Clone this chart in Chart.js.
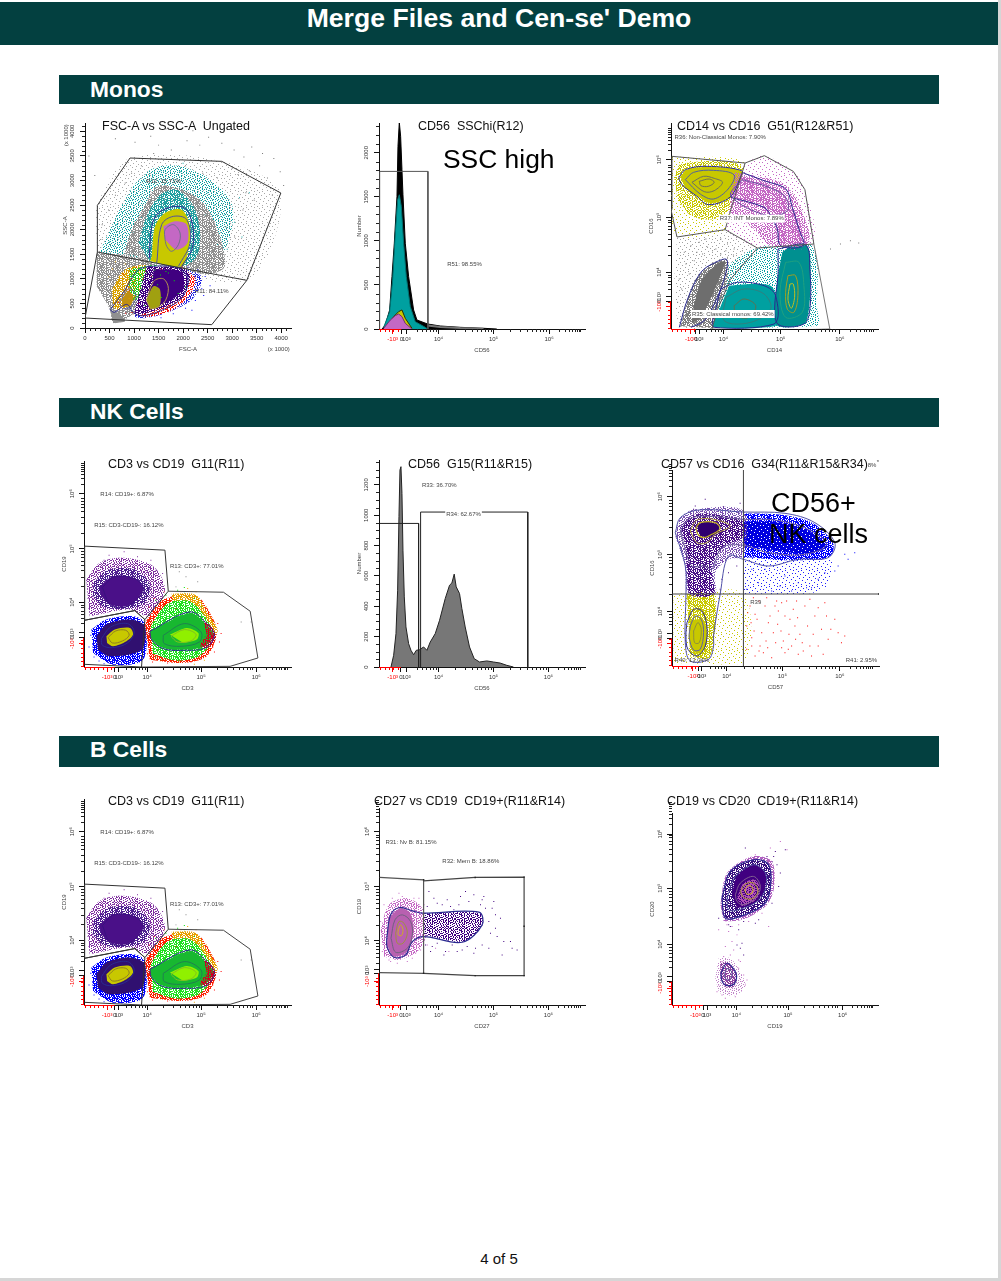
<!DOCTYPE html>
<html>
<head>
<meta charset="utf-8">
<title>Merge Files and Cen-se' Demo</title>
<script src="https://cdn.jsdelivr.net/npm/chart.js@4/dist/chart.umd.min.js"></script>
<style>
  html, body { margin: 0; padding: 0; background: #fff; }
  body { width: 1001px; height: 1281px; position: relative; overflow: hidden; font-family: "Liberation Sans", Arial, sans-serif; }
  .frameR { position: absolute; left: 998px; top: 0; width: 3px; height: 1281px; background: #d6d6d6; }
  .frameB { position: absolute; left: 0; top: 1278px; width: 1001px; height: 3px; background: #d6d6d6; }
  .head { position: absolute; left: 0; top: 2px; width: 998px; height: 43px; background: #034040; color: #fff; font-weight: bold; font-size: 26.6px; line-height: 33px; text-align: center; }
  .bar { position: absolute; left: 59px; width: 880px; background: #034040; color: #fff; font-weight: bold; font-size: 22.8px; padding-left: 31px; box-sizing: border-box; }
  .ttl { position: absolute; font-size: 12.5px; color: #111; white-space: pre; line-height: 14px; z-index: 3; }
  .big { position: absolute; color: #000; white-space: pre; line-height: 30px; z-index: 4; }
  canvas { position: absolute; z-index: 1; filter: blur(0.3px); }
  .foot { position: absolute; left: 0; width: 998px; top: 1250px; text-align: center; font-size: 15px; color: #111; }
</style>
</head>
<body>
<div class="frameR"></div><div class="frameB"></div>
<div class="head">Merge Files and Cen-se' Demo</div>
<div class="bar" style="top:75px;height:29px;line-height:28px">Monos</div>
<div class="bar" style="top:398px;height:29px;line-height:27px">NK Cells</div>
<div class="bar" style="top:736px;height:31px;line-height:27px">B Cells</div>
<div class="big" style="left:443px;top:144px;font-size:26.4px">SSC high</div>
<div class="big" style="left:771px;top:488px;font-size:27px">CD56+</div>
<div class="big" style="left:769px;top:519px;font-size:27px">NK cells</div>
<div class="foot">4 of 5</div>
<script>
// colours used by the cytometry dot plots
var TEAL = "#00a0a0", OLIVE = "#c8c800", MAGENTA = "#c468c4", PURPLE = "#400080", GREY = "#808080"
var NAVY = "#2a2a90", GATE = "#333333", CONTOUR_GREY = "#70708a"

// tick labels shared by the biexponential axes
var logLabels = ["-10³", "0", "10³", "10⁴", "10⁵", "10⁶"]

// ---- FSC-A vs SSC-A (values in the axis units, x 1000 on the labels) ----
var p1Ticks = [0, 500, 1000, 1500, 2000, 2500, 3000, 3500, 4000]
var p1GateHi = [252,1546, 252,2495, 918,3458, 2789,3390, 3993,2746, 3299,969, 252,1546]
var p1GateLo = [252,1546, 0,203, 2585,68, 3299,969]
var p1TealWide = [300,1540, 650,2300, 1000,2900, 1400,3250, 1900,3300, 2500,3050, 3000,2500, 2900,1700, 2500,1250, 1500,1300]
var p1GreyBelt = [800,1500, 950,2000, 1200,2450, 1500,2900, 2300,2650, 2700,2000, 2850,1250, 2500,1100, 1700,1250, 1000,1480]
var p1TealMid = [1088,1729, 1258,2271, 1530,2712, 1870,2814, 2210,2475, 2346,1932, 2278,1458, 2006,1254, 1326,1356]
var p1Olive = [1360,1458, 1428,2068, 1632,2339, 1972,2407, 2142,2068, 2108,1593, 1972,1254, 1326,1356]
var p1Mag = [1598,2068, 1836,2170, 2074,2102, 2088,1729, 1870,1593, 1632,1797]
var p1Con1 = [1312,1424, 1360,2068, 1496,2339, 1836,2475, 2074,2407, 2210,1966, 2176,1593, 1972,1254]
var p1Con2 = [1462,1322, 1564,2102, 1802,2271, 2074,2204, 2142,1729, 1904,1254]
var p1Con3 = [1632,1797, 1632,2000, 1802,2102, 1938,1932, 1904,1695, 1768,1559, 1666,1661, 1632,1797]
var p1GreyLow = [238,1525, 986,1458, 1462,1254, 1326,644, 918,237, 578,102, 510,373, 238,848]
var p1GreyFoot = [510,373, 680,305, 816,136, 578,102]
var p1Orange = [544,780, 816,1186, 1258,1254, 1054,644, 748,373, 578,407]
var p1GreenField = [900,1200, 1500,1250, 1400,500, 900,600]
var p1Core = [1258,1254, 2006,1220, 2142,1051, 2006,644, 1666,441, 1258,305, 1020,271, 1122,780]
var p1CoreIn = [1400,1200, 1950,1150, 2000,800, 1650,520, 1350,600]
var p1RedRim = [900,300, 1300,230, 1800,380, 2150,700, 2250,1000, 2050,1150, 1900,700, 1400,450]
var p1BlueRim = [1900,1250, 2380,1040, 2200,600, 1700,320, 1200,200, 1000,250, 1500,500]
var p1OliveA = [748,576, 884,746, 986,644, 918,441, 782,441]
var p1OliveB = [1258,576, 1394,848, 1530,780, 1516,441, 1326,373]
var p1LowCon = [510,373, 800,750, 1050,1150, 1300,1250, 1900,1220, 2100,1000, 1980,620, 1650,400, 1200,250, 1000,300, 850,480, 600,320, 510,373]
var p1LowCon2 = [1250,560, 1400,950, 1600,1000, 1700,800, 1600,500, 1350,400, 1250,560]
var p1LowCon3 = [700,520, 900,800, 1040,640, 920,420, 760,400, 700,520]
var p1GreySpk = [620,3850,1020,3780,1340,3900,1500,3720,1760,3620,2080,3810,2340,3720,2520,3880,2790,3760,3040,3620,3240,3480,3400,3680,3560,3300,3720,3050,3350,3200,3120,3120,3000,2900,3280,2750,3450,2600,3220,2400,2950,2500,2700,2300,2880,2050,3050,1850,2620,1800,2780,1500,2500,1250,2350,1350,2650,1150,1400,3550,1150,3300,950,3150,820,2950,620,2700,480,2400,350,2100,320,1800,520,1700,700,1950,900,2250,1100,2550,1300,3120,2050,3300,2400,3150,2700,3050,3000,3250,3620,3550,3850,3450,3980,3180,4050,2900,3820,2700,200,3100,80,3500,2200,4010,1650,4050]
var p1TealSpk = [500,1750,640,2100,760,2350,900,2600,1050,2750,1200,3000,1380,3100,1550,3200,1700,3260,1950,3180,2150,3100,2320,2980,2500,2750,2650,2500,2850,2300,3050,2150,3200,1850,2700,1700,2900,1600,2550,1500,1000,1950,1150,2250,600,1620,820,1780,1320,2900,2450,2300,3350,2750,3150,2650,2000,3350]
var p1Green = [1250,1120,1000,980,1380,1040,1150,800,1480,880,1300,700,1080,620,1560,620,1700,1120,1820,960,1420,1180,950,1150,1220,460,1900,700,2050,840,1650,1150,1100,1100,1540,1080]
var p1Red = [780,1100,1050,1240,900,760,1280,380,1500,300,1180,260,1700,340,1980,520,2180,780,2240,1020,1980,1240,1560,1200,1350,1060,1100,500,830,300,680,520]
var p1Blue = [2100,1240,2300,1180,2450,1050,2380,800,2250,560,2050,400,1800,290,1550,210,2550,860,2180,360,2420,660]
var p1OrangeSpk = [560,1200,480,1040,620,1350,700,1060,820,1300,650,880,900,1000,760,680,580,620,1040,900,900,600,1180,1000]
var p1Labels = [["R12: 15.71%",1600,2983],["R11: 84.11%",2584,746],["(x 1000)",3950,-425],["(x 1000)",-388,3920,0,1]]

// ---- CD56 SSChi histogram (x in display channels, y in counts) ----
var p2YTicks = [0, 500, 1000, 1500, 2000]
var p2XTicks = [41, 67, 82, 179, 344, 511]
var p2Black = [9,0,19,45,32,216,39,595,46,973,54,1504,57,2072,61,2345,65,2186,69,1807,72,1523,79,973,89,595,104,216,114,102,146,57,184,34,244,19,314,8,354,0]
var p2Teal = [14,19,32,197,41,557,49,1087,56,1466,61,1523,67,1390,74,973,82,595,94,254,109,83,139,19,146,0]
var p2Yellow = [24,26,44,140,59,197,69,216,79,121,99,8]
var p2Magenta = [14,8,34,102,49,152,59,170,69,140,79,64,99,0]
var p2Tail = [146,40,184,24,244,12,314,4]
var p2Gate = [2,0,2,1788,147,1788,147,0]
var p2Labels = [["R51: 98.55%",257,735]]

// ---- CD14 vs CD16 (display channels on both axes) ----
var p3XTicks = [58, 75, 85, 158, 330, 508]
var p3YTicks = [68, 83, 98, 171, 336, 508]
var p3Gate36 = [3,518,223,498,183,368,163,298,18,276,0,358,3,518]
var p3Gate37 = [223,498,281,520,368,473,403,418,430,255,260,243,163,298]
var p3Gate38 = [260,243,178,148,140,58,123,0]
var p3Gate35 = [430,255,478,0,300,-5,123,0]
var p3YelMid = [10,450,30,495,210,490,185,370,130,330,60,340,20,390]
var p3YelCore = [28,458,53,480,128,486,213,473,203,433,173,393,118,378,83,396,43,423]
var p3MagWide = [190,470,330,440,380,385,415,260,300,250,250,300,175,350]
var p3MagBand = [208,463,318,423,358,378,388,318,408,255,328,253,318,308,278,358,178,398]
var p3TealBlock = [360,250,410,250,420,170,415,60,400,15,320,10,312,60,322,160,335,230]
var p3TealLow = [175,130,240,135,300,130,315,100,315,10,130,5,150,70]
var p3GreyCore = [68,68,93,148,143,198,163,203,148,158,118,88,88,33,63,18]
var p3GreyRim = [28,8,68,138,118,193,168,208,168,138,138,58,128,3]
var p3GreyField = [18,276,163,298,260,243,178,148,140,58,123,0,30,0,10,150]
var p3TealWide = [128,140,170,190,260,243,425,250,440,60,440,10,120,5]
var p3C1 = [23,453,43,478,108,488,213,475,208,453,178,396,113,373,78,398,33,433,23,453]
var p3C2 = [43,448,68,470,128,476,190,462,172,420,128,390,88,405,43,448]
var p3C3 = [63,440,98,458,130,452,155,440,130,415,100,412,63,440]
var p3C4 = [85,443,115,450,130,440,112,428,90,430,85,443]
var p3M1 = [213,470,280,445,345,420,365,365,385,300,398,250,330,250,320,300,300,340,280,365,180,395]
var p3M2 = [215,448,295,425,345,395,350,355,290,340,180,400,215,448]
var p3T1 = [322,240,405,252,418,180,418,60,400,15,325,12,312,60,322,160,322,240]
var p3T2 = [345,200,385,200,400,130,395,50,345,35,328,110,345,200]
var p3T3 = [352,160,375,160,382,100,370,50,350,60,345,110,352,160]
var p3T4 = [358,135,368,135,372,95,362,62,352,90,358,135]
var p3L1 = [150,120,200,140,280,130,315,100,310,15,130,5,135,60,150,120]
var p3L2 = [165,95,220,120,280,105,300,60,240,20,160,25,165,95]
var p3L3 = [190,70,220,90,255,70,235,35,195,40,190,70]
var p3G1 = [25,5,50,90,90,170,130,198,168,208,160,150,130,75,100,25,60,5]
var p3GreySpk = [40,230,60,250,85,260,105,270,125,235,150,270,170,255,190,240,215,235,70,205,95,225,135,240,165,235,55,165,32,120,20,80,170,215,200,205,150,225,110,245,78,230,188,222,45,195,25,150]
var p3Labels = [["R36: Non-Classical Monos: 7.90%",148,576,1],["R37: INT Monos: 7.89%",243,331,1],["R35: Classical monos: 69.42%",186,45,1]]
var p3Stray = [510,255,540,265,565,258,480,240]

// ---- CD3 vs CD19, used by both the NK and the B cell rows (channels) ----
var p4XTicks = [69, 92, 104, 189, 350, 515]
var p4YTicks = [70, 87, 102, 194, 354, 519]
var p4Gate14 = [2,362,242,350,252,227,182,142,152,169,2,140,2,362]
var p4Gate15 = [2,140,152,169,182,142,172,0,2,8]
var p4Gate13 = [252,227,417,224,497,167,520,27,437,2,172,0]
var p4PurpleWide = [7,262,47,312,117,327,207,302,242,232,197,152,137,172,17,152]
var p4PurpleMid = [30,255,70,290,150,292,195,250,185,195,135,175,60,180,25,215]
var p4PurpleCore = [47,242,87,272,147,267,177,237,162,207,127,182,77,187,52,212]
var p4BlueField = [22,112,67,142,147,152,182,132,177,22,87,7,27,42]
var p4DarkCore = [37,92,67,127,137,142,182,122,172,52,77,32,42,52]
var p4OliveCore = [67,92,92,112,137,117,147,97,127,77,87,62,69,72]
var p4RedField = [182,132,237,202,337,212,387,142,397,97,367,32,297,12,197,22]
var p4OrangeField = [262,220,335,215,370,160,400,110,380,90,340,150,270,170]
var p4GreenField = [200,125,250,190,320,195,375,130,385,80,340,30,270,20,205,40]
var p4GreenCore = [197,107,317,162,367,127,387,97,362,62,297,52,237,57,202,82]
var p4LimeCore = [257,97,307,117,342,102,337,82,297,72]
var p4RedBand = [357,142,387,112,392,82,367,57,347,62,367,97]
var p4C1 = [197,107,317,165,370,127,390,97,365,58,297,50,237,55,202,82,197,107]
var p4C2 = [237,95,300,130,350,105,345,75,290,62,240,70,237,95]
var p4C3 = [260,92,300,112,335,98,320,78,280,75,260,92]
var p4D1 = [52,85,80,120,130,130,150,105,130,72,85,58,55,65,52,85]
var p4D2 = [72,88,95,108,125,110,135,95,115,78,85,72,72,88]
var p4P1 = [55,238,90,270,150,265,178,235,160,205,125,180,80,185,55,238]
var p4Purple = [12,205,25,240,40,290,60,320,90,310,120,345,160,330,200,320,215,290,232,250,235,210,15,175,35,165,8,260,220,170,205,145,190,285,75,335,55,275,30,205,48,300,235,280]
var p4Blue = [30,30,45,18,60,25,80,12,100,20,120,15,150,25,165,30,15,60,20,95,35,60,105,10,135,12,60,10,88,22,145,40]
var p4Green = [215,200,230,150,245,215,280,230,300,225,330,205,350,180,280,20,300,30,330,35,230,22,260,25,215,30,300,238]
var p4Red = [195,180,210,205,222,165,190,40,205,15,250,12,400,130,410,100,405,75,385,60,390,45,350,25,320,15,275,175,240,225]
var p4Orange = [290,225,310,235,335,225,345,205,365,180,380,150,360,20,330,8,285,15,345,30]
var p4Stray = [285,285,305,270,340,255,275,240,470,135,500,135]
var p4Labels = [["R14: CD19+: 6.87%",129,518],["R15: CD3-CD19-: 16.12%",134,424],["R13: CD3+: 77.01%",337,300,1]]

// ---- CD56 G15 histogram ----
var p5YTicks = [0, 200, 400, 600, 800, 1000, 1200]
var p5XTicks = [41, 66, 82, 179, 344, 509]
var p5Hist = [36,0,44,77,51,220,56,506,60,990,63,1298,66,1320,69,1144,72,770,76,462,81,264,89,154,96,110,104,81,112,110,122,114,134,132,144,110,154,165,169,220,182,308,199,451,212,539,219,554,226,612,232,528,242,484,249,385,259,264,272,132,286,55,302,33,324,40,344,33,364,26,384,11,404,0]
var p5Gate33 = [2,946,119,946,119,0]
var p5Gate34 = [125,0,125,1021,447,1021,447,0]
var p5Labels = [["R33: 36.70%",181,1197],["R34: 62.67%",254,1003,1]]

// ---- CD57 vs CD16 ----
var p6XTicks = [63, 81, 90, 165, 332, 505]
var p6YTicks = [68, 83, 98, 163, 335, 508]
var p6LineV = [215,0,215,588]
var p6LineH = [0,216,623,216]
var p6Diamond = [623,216]
var p6PurpleWide = [10,390,25,445,70,470,215,465,215,330,170,320,130,280,130,216,50,216,40,300]
var p6PurpleDense = [25,418,65,453,145,453,215,433,215,388,155,358,120,298,125,216,55,216,45,298,40,368]
var p6PurpleCore = [75,423,100,433,140,423,140,403,110,386,85,390]
var p6BlueWide = [215,458,335,453,425,428,485,368,475,328,405,318,325,318,215,328]
var p6BlueDense = [215,433,305,433,405,408,465,358,405,338,305,348,215,363]
var p6BlueSparse = [215,328,475,320,455,228,215,216]
var p6YelWide = [5,216,215,216,215,8,5,8]
var p6YelMid = [45,216,125,216,115,28,55,28]
var p6YelCore = [55,138,95,138,105,78,85,38,60,48,50,88]
var p6C1 = [10,400,25,445,80,468,215,462,340,458,430,430,490,370,470,325,380,320,290,300,215,320,170,330,145,216,125,90,125,60,110,20,55,15,40,70,42,216,40,300,10,400]
var p6C2 = [25,405,50,440,100,450,215,440,310,438,410,410,465,365,400,335,290,340,215,362,150,355,120,290,100,300,60,300,40,350,25,405]
var p6C3 = [55,405,75,438,125,440,175,420,130,395,105,370,75,370,55,405]
var p6C4 = [72,415,85,430,130,430,145,412,120,395,95,385,78,395,72,415]
var p6C5 = [45,130,65,170,90,165,105,120,100,60,75,30,48,50,42,90,45,130]
var p6C6 = [55,120,70,150,88,140,95,100,85,50,65,48,52,85,55,120]
var p6C7 = [65,105,78,130,88,110,82,70,68,70,65,105]
var p6Red = [225,120,240,85,250,155,265,60,280,180,290,130,305,100,320,165,335,75,345,195,355,140,370,120,385,95,400,180,415,60,430,150,450,110,470,80,490,140,250,30,275,40,300,25,340,40,380,35,420,30,235,180,262,195,315,195,225,50,360,60,510,70,455,35,228,160,238,130,247,105,256,140,270,100,283,75,295,150,310,180,318,125,328,105,340,150,352,95,365,170,378,145,392,70,408,120,425,95,440,175,465,150,478,110,500,100,520,90,240,60,262,45,288,55,312,70,330,55,350,50,372,80,395,45,440,60,245,205,285,205,330,190,375,195,415,200,460,190]
var p6BlueSpk = [225,230,260,250,300,225,340,270,380,250,420,235,460,280,500,300,520,335,490,285,440,260,360,225,280,290,240,290,530,320,550,340,405,235,325,240]
var p6PurpleSpk = [70,480,100,500,155,478,205,488,65,470,135,470,180,472,150,260,170,280,195,300,145,230,135,295]
var p6Labels = [["R39",252,191],["R40: 13.04%",60,16],["R41: 2.95%",570,16],["8%",602,601],["*",620,612]]

// ---- CD27 vs CD19 ----
var p8YTicks = [70, 95, 105, 192, 355, 520]
var p8XTicks = [41, 66, 82, 179, 344, 509]
var p8Gate31 = [2,382,134,375,134,95,2,97]
var p8Gate32 = [134,372,289,382,436,383,436,88,289,88,134,95]
var p8Vertices = [134,375,289,382,436,383,436,236,436,88,289,88,134,95]
var p8MagWide = [5,225,30,300,85,320,130,290,145,220,120,165,60,135,15,145]
var p8MagCore = [29,260,64,290,94,275,104,220,84,160,44,145,24,180]
var p8PurpleBand = [134,275,304,275,309,235,254,190,134,210]
var p8C1 = [24,205,35,270,62,292,100,282,130,275,300,278,310,240,250,188,135,205,100,190,80,150,45,143,24,175,24,205]
var p8C2 = [36,200,48,255,70,270,95,250,100,210,85,170,50,158,36,200]
var p8C3 = [50,215,60,250,75,245,85,215,72,185,55,185,50,215]
var p8C4 = [58,225,65,240,72,225,68,208,58,210,58,225]
var p8Purple = [150,340,175,305,205,315,240,300,260,340,285,330,315,325,345,310,350,270,330,250,335,215,355,205,375,190,395,190,400,170,415,165,370,150,290,170,250,165,200,160,160,175,145,295,225,285,305,300,320,290,140,180,155,160,175,185,195,150,220,180,235,160,265,175,285,155,310,180,330,170,350,230,365,260,340,290,310,315,270,310,245,325,215,295,190,300,165,320]
var p8Mag = [15,300,40,320,70,325,105,320,120,300,130,250,125,165,110,155,85,130,30,135,10,160,5,250,145,180,170,170,210,160,135,300,120,320,60,335,95,310,35,130,55,125,100,140]
var p8Labels = [["R31: Nv B: 81.15%",96,488],["R32: Mem B: 18.86%",276,430]]

// ---- CD19 vs CD20 ----
var p9XTicks = [70, 93, 105, 193, 348, 512]
var p9YTicks = [50, 70, 85, 182, 350, 512]
var p9MagWide = [145,300,165,395,240,445,300,430,305,345,280,295,210,255,155,250]
var p9Dark = [150,320,175,400,245,435,290,420,295,350,275,300,205,265,160,260]
var p9DarkCore = [180,330,195,385,245,420,280,395,275,340,240,300,195,290]
var p9MagCore = [195,320,215,365,250,375,265,340,245,310,210,295]
var p9Low = [145,125,170,128,195,85,185,55,160,55,145,90]
var p9LowWide = [140,140,175,140,210,90,220,55,190,30,145,35,130,80]
var p9C1 = [150,320,175,400,245,435,290,420,295,350,275,300,205,265,160,260,150,320]
var p9C2 = [165,320,190,385,245,420,280,395,280,345,255,310,200,285,170,285,165,320]
var p9C3 = [190,330,205,365,245,385,265,355,250,320,215,300,195,310,190,330]
var p9C4 = [205,340,220,362,245,365,258,340,240,318,215,322,205,340]
var p9C5 = [218,345,230,358,242,350,240,335,225,332,218,345]
var p9LowC1 = [147,95,165,125,192,95,188,65,165,58,150,72,147,95]
var p9LowC2 = [157,95,168,110,180,95,172,75,160,80,157,95]
var p9Purple = [220,470,270,440,310,460,340,465,300,400,320,355,300,305,240,270,170,240,200,225,260,255,210,185,195,180,205,170,215,150,300,430,140,260,305,445,315,420,285,445,325,395,175,235,215,250,250,245]
var p9Mag = [170,220,195,210,180,190,185,165,175,150,155,145,150,130,140,60,135,40,150,30,200,110,210,70,220,60,200,45,170,35,145,110,200,135,160,175,290,235,345,465,325,490,295,470,250,450,165,240,180,235,200,240,230,250,270,275,140,225,205,130,215,90,225,75,190,25,160,20]
var p9Labels = []

var minorWidth = 3
</script>
<script>
Chart.defaults.font.family = '"Liberation Sans", Arial, sans-serif'
Chart.defaults.devicePixelRatio = 1

// stipple tiles, so a density region reads as speckle rather than flat colour
var tileSparse = ["#.......#.......",".....#..........","..........#.....","..#............#",".......#........","............#...","....#...........","#.........#.....","......#.........","..............#.","..#......#......","................",".....#......#...","#...............","........#.......","...#.........#.."]
var tileMid = ["#...#..#....#...","..#....#..#...#.","#....#.....#....","...#...#.#....#.",".#...#.....#.#..","....#..#.#.....#","#.#.....#...#...","...#.#....#...#.",".#.....#.#..#...","....#.#....#...#","#.#......#...#..","...#.#.#....#...",".#.....#..#....#","...#.#...#..#...","#......#....#.#.","..#.#.....#....."]
var tileShifts = [[0, 0], [5, 7], [9, 3], [12, 11]]
var tileCache = {}

function stipple(color, tile, n) {
    var key = color + tile[0] + tile[1] + n
    if (tileCache[key]) return tileCache[key]
    var c = document.createElement("canvas")
    c.width = 16
    c.height = 16
    var g = c.getContext("2d")
    g.fillStyle = color
    for (var r = 0; r < 16; r++) {
        for (var k = 0; k < 16; k++) {
            if (tile[r][k] == "#") {
                for (var s = 0; s < n; s++) g.fillRect((k + tileShifts[s][0]) % 16, (r + tileShifts[s][1]) % 16, 1, 1)
            }
        }
    }
    tileCache[key] = c.getContext("2d").createPattern(c, "repeat")
    return tileCache[key]
}

function pts(a) {
    var out = []
    for (var i = 0; i < a.length; i += 2) out.push({ x: a[i], y: a[i + 1] })
    return out
}

function dots(a, color, r) {
    return { data: pts(a), showLine: false, pointRadius: r || 0.7, pointStyle: "rect", pointBackgroundColor: color, pointBorderWidth: 0 }
}
function solid(a, color) {
    return { data: pts(a), showLine: true, borderWidth: 0, pointRadius: 0, tension: 0.3, areaFill: color }
}
function sparse(a, color) { return solid(a, stipple(color, tileSparse, 1)) }
function mid(a, color) { return solid(a, stipple(color, tileMid, 1)) }
function dense(a, color) { return solid(a, stipple(color, tileMid, 2)) }
function heavy(a, color) { return solid(a, stipple(color, tileMid, 4)) }
function line(a, color, w, t) {
    return { data: pts(a), showLine: true, borderColor: color, borderWidth: w || 1, pointRadius: 0, tension: t === undefined ? 0.35 : t }
}
function gate(a) { return line(a, GATE, 1, 0) }
function hist(a, color, edge) {
    return { data: pts(a), showLine: true, fill: "origin", backgroundColor: color, borderColor: edge || color, borderWidth: 1, pointRadius: 0, tension: 0 }
}

// closes and fills the area datasets through the scales of their own chart
var areaPlugin = {
    id: "areaFill",
    beforeDatasetDraw: function (chart, args) {
        var ds = chart.data.datasets[args.index]
        if (!ds.areaFill) return
        var el = args.meta.dataset
        el.updateControlPoints(chart.chartArea, "x")
        var ctx = chart.ctx
        ctx.save()
        ctx.beginPath()
        ctx.rect(chart.chartArea.left, chart.chartArea.top, chart.chartArea.width, chart.chartArea.height)
        ctx.clip()
        ctx.beginPath()
        el.path(ctx)
        ctx.closePath()
        ctx.fillStyle = ds.areaFill
        ctx.fill()
        ctx.restore()
    }
}

// short ticks, red lower axis and the small region labels
var extrasPlugin = {
    id: "extras",
    afterDatasetsDraw: function (chart) {
        var cfg = chart.options.plugins.extras
        var ctx = chart.ctx, sx = chart.scales.x, sy = chart.scales.y
        var ax = chart.chartArea.left, ay = chart.chartArea.bottom
        ctx.save()
        ctx.lineWidth = 1
        if (cfg.redX) {
            ctx.strokeStyle = "#ff0000"
            ctx.beginPath()
            ctx.moveTo(ax, ay + 0.5)
            ctx.lineTo(sx.getPixelForValue(cfg.redX), ay + 0.5)
            ctx.stroke()
        }
        if (cfg.redY) {
            ctx.strokeStyle = "#ff0000"
            ctx.beginPath()
            ctx.moveTo(ax - 0.5, ay)
            ctx.lineTo(ax - 0.5, sy.getPixelForValue(cfg.redY))
            ctx.stroke()
        }
        cfg.minorX.forEach(function (v) {
            var p = Math.round(sx.getPixelForValue(v)) + 0.5
            ctx.strokeStyle = v < cfg.redX ? "#ff0000" : "#222"
            ctx.beginPath()
            ctx.moveTo(p, ay)
            ctx.lineTo(p, ay + minorWidth)
            ctx.stroke()
        })
        cfg.minorY.forEach(function (v) {
            var p = Math.round(sy.getPixelForValue(v)) + 0.5
            ctx.strokeStyle = v < cfg.redY ? "#ff0000" : "#222"
            ctx.beginPath()
            ctx.moveTo(ax, p)
            ctx.lineTo(ax - minorWidth, p)
            ctx.stroke()
        })
        ctx.font = '6px "Liberation Sans", Arial, sans-serif'
        ctx.textAlign = "center"
        ctx.textBaseline = "middle"
        cfg.labels.forEach(function (l) {
            var px = sx.getPixelForValue(l[1]), py = sy.getPixelForValue(l[2])
            var w = ctx.measureText(l[0]).width
            if (l[3]) {
                ctx.fillStyle = "#fff"
                ctx.fillRect(px - w / 2 - 1, py - 4, w + 2, 8)
            }
            ctx.fillStyle = "#444"
            ctx.save()
            ctx.translate(px, py)
            if (l[4]) ctx.rotate(-Math.PI / 2)
            ctx.fillText(l[0], 0, 0)
            ctx.restore()
        })
        ctx.restore()
    }
}

// 2..9 spacing inside each labelled decade
function decadeMinors(p4, p5, p6, zero) {
    var out = [], step = p5 - p4
    var f = [0.301, 0.477, 0.602, 0.699, 0.778, 0.845, 0.903, 0.954]
    f.forEach(function (k) {
        out.push(p4 + step * k, p5 + step * k, p6 + step * k * 0.6)
        if (p4 - step * (1 - k) > zero + 14) out.push(p4 - step * (1 - k))
    })
    return out
}
function lowMinors(zero) {
    var out = []
    for (var v = 4; v < zero; v += 13) out.push(v)
    return out
}

function panel(o) {
    var c = document.createElement("canvas")
    var yw = 23, xh = 26, padTop = 12, padRight = 8
    c.width = o.right - o.left + yw + padRight
    c.height = o.bottom - o.top + padTop + xh
    c.style.left = (o.left - yw) + "px"
    c.style.top = (o.top - padTop) + "px"
    document.body.appendChild(c)

    function axis(ticks, labels, max, rotate, zero, name) {
        return {
            type: "linear", min: 0, max: max, bounds: "ticks",
            afterBuildTicks: function (s) { s.ticks = ticks.map(function (v) { return { value: v } }) },
            afterFit: function (s) {
                if (rotate) { s.width = yw; s.paddingTop = 0; s.paddingBottom = 0 }
                else { s.height = xh; s.paddingLeft = 0; s.paddingRight = 0 }
            },
            border: { color: "#111", width: 1 },
            grid: {
                drawOnChartArea: false, tickLength: 5,
                tickColor: function (ctx) { return ctx.tick && zero && ctx.tick.value < zero ? "#ff0000" : "#111" }
            },
            title: { display: !!name, text: name, font: { size: 6 }, color: "#444", padding: { top: 0, bottom: 1 } },
            ticks: {
                autoSkip: false, minRotation: rotate ? 90 : 0, maxRotation: rotate ? 90 : 0,
                crossAlign: rotate ? "center" : "near", padding: rotate ? 1 : 2,
                font: { size: 6 },
                color: function (ctx) { return zero && ctx.tick && ctx.tick.value < zero ? "#ff0000" : "#333" },
                callback: function (v, i) { return labels[i] }
            }
        }
    }

    new Chart(c, {
        type: "scatter",
        data: { datasets: o.layers.slice().reverse() },
        plugins: [areaPlugin, extrasPlugin],
        options: {
            responsive: false, animation: false, events: [],
            layout: { padding: { top: padTop, right: padRight, left: 0, bottom: 0 } },
            plugins: {
                legend: { display: false }, tooltip: { enabled: false },
                extras: { labels: o.labels, minorX: o.minorX, minorY: o.minorY, redX: o.redX, redY: o.redY }
            },
            scales: {
                x: axis(o.xTicks, o.xLabels, o.xMax, false, o.redX, o.xName),
                y: axis(o.yTicks, o.yLabels, o.yMax, true, o.redY, o.yName)
            }
        }
    })
}

function title(text, x, y) {
    var d = document.createElement("div")
    d.className = "ttl"
    d.textContent = text
    d.style.left = x + "px"
    d.style.top = y + "px"
    document.body.appendChild(d)
}

function countLabels(t) { return t.map(String) }

// ---- Monos row ----
var p1Minor = []
for (var t1 = 100; t1 < 4200; t1 += 100) if (t1 % 500) p1Minor.push(t1)

panel({
    left: 85, right: 291, top: 123, bottom: 328, xMax: 4200, yMax: 4170,
    xTicks: p1Ticks, yTicks: p1Ticks, xLabels: countLabels(p1Ticks), yLabels: countLabels(p1Ticks),
    minorX: p1Minor, minorY: p1Minor, labels: p1Labels,
    xName: "FSC-A", yName: "SSC-A",
    layers: [
        dots(p1GreySpk, "#777"), sparse(p1GateHi, "#a8a8a8"), mid(p1TealWide, TEAL), dots(p1TealSpk, TEAL),
        heavy(p1GreyBelt, "#909090"), heavy(p1TealMid, "#20a0a0"),
        solid(p1Olive, OLIVE), solid(p1Mag, MAGENTA),
        line(p1Con1, NAVY), line(p1Con2, "#5050a0"), line(p1Con3, CONTOUR_GREY),
        heavy(p1GreyLow, "#909090"), heavy(p1Orange, "#d8a000"), solid(p1GreyFoot, "#909090"),
        dense(p1GreenField, "#10d020"), dense(p1BlueRim, "#2020e0"), dense(p1RedRim, "#ff1000"), heavy(p1Core, PURPLE), solid(p1CoreIn, PURPLE),
        solid(p1OliveA, "#c09010"), solid(p1OliveB, "#a0a010"),
        dots(p1Green, "#00e000"), dots(p1Red, "#ff0000"), dots(p1Blue, "#0000ff"), dots(p1OrangeSpk, "#e0a000"),
        line(p1LowCon, NAVY), line(p1LowCon2, "#b09050"), line(p1LowCon3, "#6060a0"),
        gate(p1GateHi), gate(p1GateLo)
    ]
})
title("FSC-A vs SSC-A  Ungated", 102, 119)

panel({
    left: 379, right: 585, top: 123, bottom: 329, xMax: 619, yMax: 2337,
    xTicks: p2XTicks, yTicks: p2YTicks, xLabels: logLabels, yLabels: countLabels(p2YTicks),
    minorX: decadeMinors(179, 344, 511, 82).concat(lowMinors(67)), minorY: [100, 200, 300, 400, 600, 700, 800, 900, 1100, 1200, 1300, 1400, 1600, 1700, 1800, 1900, 2100, 2200, 2300],
    redX: 67, labels: p2Labels, xName: "CD56", yName: "Number",
    layers: [
        hist(p2Black, "#000000"), hist(p2Teal, TEAL, "#007070"), hist(p2Yellow, OLIVE, "#303000"), hist(p2Magenta, MAGENTA, "#703070"),
        line(p2Tail, "#777", 2, 0), line(p2Gate, "#555", 1, 0)
    ]
})
title("CD56  SSChi(R12)", 418, 119)

panel({
    left: 671, right: 878, top: 123, bottom: 329, xMax: 623, yMax: 618,
    xTicks: p3XTicks, yTicks: p3YTicks, xLabels: logLabels, yLabels: logLabels,
    minorX: decadeMinors(158, 330, 508, 85).concat(lowMinors(75)), minorY: decadeMinors(171, 336, 508, 98).concat(lowMinors(83)),
    redX: 75, redY: 83, labels: p3Labels, xName: "CD14", yName: "CD16",
    layers: [
        sparse(p3GreyField, "#a0a0a0"), mid(p3TealWide, TEAL), dots(p3GreySpk, "#777"), heavy(p3GreyRim, "#808080"), solid(p3GreyCore, "#6e6e6e"),
        solid(p3TealLow, "#00a0a0"), solid(p3TealBlock, "#009090"),
        sparse(p3Gate36, OLIVE), dense(p3YelMid, OLIVE), solid(p3YelCore, OLIVE),
        sparse(p3Gate37, MAGENTA), dense(p3MagWide, MAGENTA), heavy(p3MagBand, MAGENTA),
        dots(p3Stray, "#777"),
        line(p3C1, NAVY), line(p3C2, "#5060a0"), line(p3C3, "#6a7060"), line(p3C4, "#707050"),
        line(p3M1, NAVY), line(p3M2, "#6a50a0"),
        line(p3T1, NAVY), line(p3T2, "#20a080"), line(p3T3, "#a0a020"), line(p3T4, "#c0c020"),
        line(p3L1, NAVY), line(p3L2, "#308080"), line(p3L3, "#607050"),
        line(p3G1, NAVY),
        line(p3Gate36, "#555", 1, 0), line(p3Gate37, "#555", 1, 0), line(p3Gate38, "#555", 1, 0), line(p3Gate35, "#777", 1, 0)
    ]
})
title("CD14 vs CD16  G51(R12&R51)", 677, 119)

// ---- CD3 vs CD19 appears twice on the page ----
function cd3Panel(top, titleTop) {
    panel({
        left: 84, right: 291, top: top, bottom: top + 206, xMax: 619, yMax: 617,
        xTicks: p4XTicks, yTicks: p4YTicks, xLabels: logLabels, yLabels: logLabels,
        minorX: decadeMinors(189, 350, 515, 104).concat(lowMinors(92)), minorY: decadeMinors(194, 354, 519, 102).concat(lowMinors(87)),
        redX: 92, redY: 87, labels: p4Labels, xName: "CD3", yName: "CD19",
        layers: [
            dense(p4PurpleWide, "#8030a0"), heavy(p4PurpleMid, "#502090"), solid(p4PurpleCore, "#4a1088"), dots(p4Purple, "#8030a0"),
            heavy(p4BlueField, "#0000ff"), solid(p4DarkCore, "#301070"), solid(p4OliveCore, OLIVE), dots(p4Blue, "#0000ff"),
            heavy(p4RedField, "#ff2000"), heavy(p4OrangeField, "#e8a000"), heavy(p4GreenField, "#20e020"), solid(p4GreenCore, "#18b830"), heavy(p4RedBand, "#d00020"), solid(p4LimeCore, "#90f000"),
            dots(p4Green, "#00e000"), dots(p4Red, "#ff0000"), dots(p4Orange, "#e8a000"), dots(p4Stray, "#888"),
            line(p4P1, "#3a1080"), line(p4C1, NAVY), line(p4C2, "#208050"), line(p4C3, "#80c020"),
            line(p4D1, NAVY), line(p4D2, "#908020"),
            gate(p4Gate14), gate(p4Gate15), line(p4Gate13, "#444", 1, 0)
        ]
    })
    title("CD3 vs CD19  G11(R11)", 108, titleTop)
}

// ---- NK row ----
cd3Panel(461, 457)

panel({
    left: 379, right: 585, top: 460, bottom: 667, xMax: 619, yMax: 1364,
    xTicks: p5XTicks, yTicks: p5YTicks, xLabels: logLabels, yLabels: countLabels(p5YTicks),
    minorX: decadeMinors(179, 344, 509, 82).concat(lowMinors(66)), minorY: [50, 100, 150, 250, 300, 350, 450, 500, 550, 650, 700, 750, 850, 900, 950, 1050, 1100, 1150, 1250, 1300, 1350],
    redX: 66, labels: p5Labels, xName: "CD56", yName: "Number",
    layers: [hist(p5Hist, "#777777", "#222222"), line(p5Gate33, "#222", 1, 0), line(p5Gate34, "#222", 1, 0)]
})
title("CD56  G15(R11&R15)", 408, 457)

panel({
    left: 672, right: 879, top: 470, bottom: 666, xMax: 623, yMax: 588,
    xTicks: p6XTicks, yTicks: p6YTicks, xLabels: logLabels, yLabels: logLabels,
    minorX: decadeMinors(165, 332, 505, 90).concat(lowMinors(81)), minorY: decadeMinors(163, 335, 508, 98).concat(lowMinors(83)),
    redX: 81, redY: 83, labels: p6Labels, xName: "CD57", yName: "CD16",
    layers: [
        sparse(p6YelWide, OLIVE), heavy(p6YelMid, OLIVE), solid(p6YelCore, OLIVE),
        dots(p6Red, "#ff0000"),
        sparse(p6BlueSparse, "#2020ff"), dots(p6BlueSpk, "#0000ff"), heavy(p6BlueWide, "#0000ff"), solid(p6BlueDense, "#0000e0"), sparse(p6BlueDense, "#ffffff"),
        dense(p6PurpleWide, "#7a50b0"), heavy(p6PurpleDense, "#4a1088"), solid(p6PurpleCore, "#300070"), dots(p6PurpleSpk, "#400080"),
        line(p6C1, "#5050a8"), line(p6C2, "#7060a0"), line(p6C3, "#b0a040"), line(p6C4, "#c0b020", 1.2),
        line(p6C5, NAVY), line(p6C6, "#6060a0"), line(p6C7, "#90903a"),
        line(p6LineV, "#444", 1, 0), line(p6LineH, "#444", 1, 0), dots(p6Diamond, "#222", 1.2)
    ]
})
title("CD57 vs CD16  G34(R11&R15&R34)", 661, 457)

// ---- B cell row ----
cd3Panel(799, 794)

panel({
    left: 379, right: 585, top: 808, bottom: 1005, xMax: 619, yMax: 590,
    xTicks: p8XTicks, yTicks: p8YTicks, xLabels: logLabels, yLabels: logLabels,
    minorX: decadeMinors(179, 344, 509, 82).concat(lowMinors(66)), minorY: decadeMinors(192, 355, 520, 105).concat(lowMinors(95)),
    redX: 66, redY: 95, labels: p8Labels, xName: "CD27", yName: "CD19",
    layers: [
        dense(p8MagWide, MAGENTA), solid(p8MagCore, "#b860b0"), dots(p8Mag, MAGENTA),
        dense(p8PurpleBand, "#400080"), dots(p8Purple, "#400080"),
        line(p8C1, NAVY, 1.2), line(p8C2, "#706080"), line(p8C3, "#a09040"), line(p8C4, "#d0b020"),
        line(p8Gate31, "#555", 1.2, 0), line(p8Gate32, "#444", 1.2, 0), dots(p8Vertices, "#222", 1)
    ]
})
title("CD27 vs CD19  CD19+(R11&R14)", 374, 794)

panel({
    left: 672, right: 878, top: 813, bottom: 1005, xMax: 618, yMax: 575,
    xTicks: p9XTicks, yTicks: p9YTicks, xLabels: logLabels, yLabels: logLabels,
    minorX: decadeMinors(193, 348, 512, 105).concat(lowMinors(93)), minorY: decadeMinors(182, 350, 512, 85).concat(lowMinors(70)),
    redX: 93, redY: 70, labels: p9Labels, xName: "CD19", yName: "CD20",
    layers: [
        dots(p9Mag, "#c060c0"), dots(p9Purple, "#400080"),
        heavy(p9MagWide, "#b060c0"), heavy(p9Dark, "#3a1080"), solid(p9DarkCore, "#400080"), heavy(p9MagCore, "#b050b8"),
        mid(p9LowWide, "#c080c8"), heavy(p9Low, "#9040a0"),
        line(p9C1, NAVY, 1.2), line(p9C2, "#5050a0"), line(p9C3, "#806090"), line(p9C4, "#b0a030"), line(p9C5, "#d8c020"),
        line(p9LowC1, NAVY, 1.2), line(p9LowC2, "#6060a0")
    ]
})
title("CD19 vs CD20  CD19+(R11&R14)", 667, 794)
</script>
</body>
</html>
